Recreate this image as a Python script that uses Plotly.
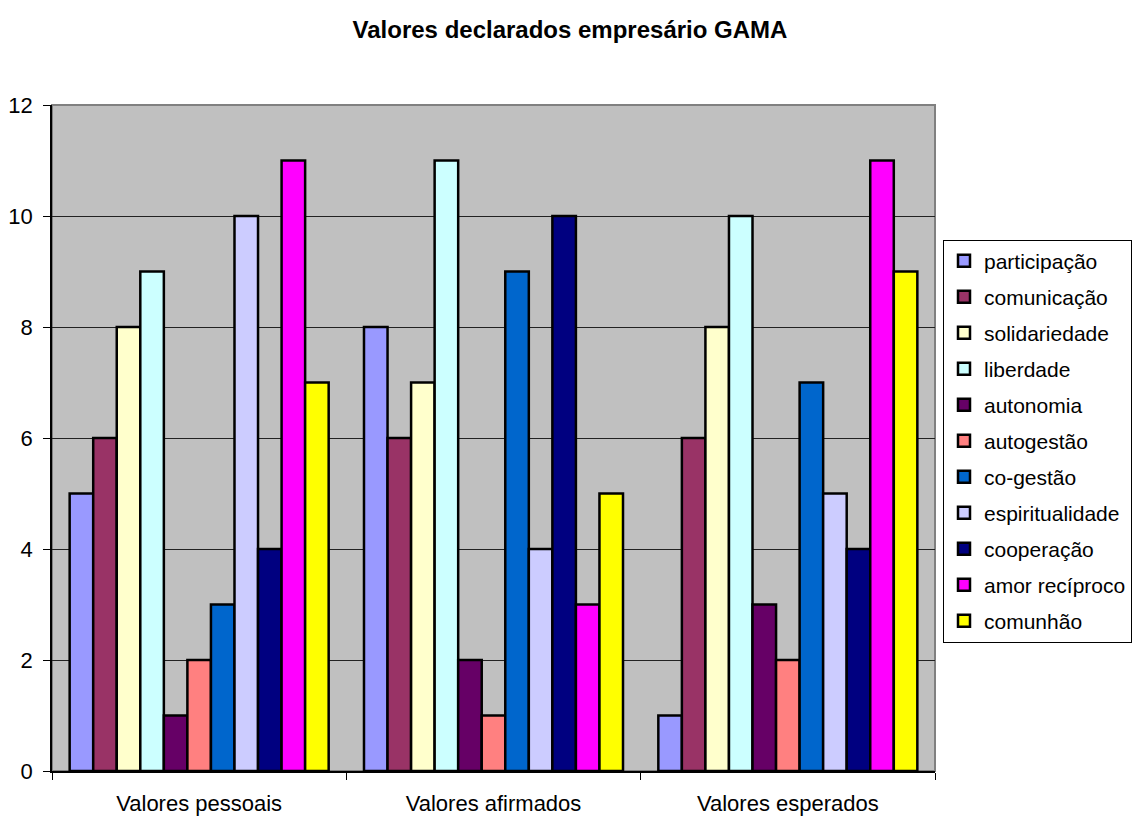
import plotly.graph_objects as go

categories = ["Valores pessoais", "Valores afirmados", "Valores esperados"]
series_names = ["participação", "comunicação", "solidariedade", "liberdade", "autonomia",
                "autogestão", "co-gestão", "espiritualidade", "cooperação", "amor recíproco", "comunhão"]
participacao = [5, 8, 1]
comunicacao = [6, 6, 6]
solidariedade = [8, 7, 8]
liberdade = [9, 11, 10]
autonomia = [1, 2, 3]
autogestao = [2, 1, 2]
cogestao = [3, 9, 7]
espiritualidade = [10, 4, 5]
cooperacao = [4, 10, 4]
amor_reciproco = [11, 3, 11]
comunhao = [7, 5, 9]
series_values = [participacao, comunicacao, solidariedade, liberdade, autonomia, autogestao,
                 cogestao, espiritualidade, cooperacao, amor_reciproco, comunhao]
colors = ["#9999FF", "#993366", "#FFFFCC", "#CCFFFF", "#660066", "#FF8080",
          "#0066CC", "#CCCCFF", "#000080", "#FF00FF", "#FFFF00"]

FONT = "Liberation Sans, Arial, sans-serif"

fig = go.Figure()
for name, vals, c in zip(series_names, series_values, colors):
    fig.add_trace(go.Bar(
        x=categories, y=vals, name=name, legendgroup=name,
        marker=dict(color=c, line=dict(color="black", width=2.5)),
    ))

fig.update_layout(
    width=1140, height=817,
    margin=dict(l=52, r=205, t=105, b=46, autoexpand=False),
    paper_bgcolor="white",
    plot_bgcolor="#C0C0C0",
    barmode="group",
    bargap=0.12,
    bargroupgap=0,
    font=dict(family=FONT, size=22, color="black"),
    title=dict(text="<b>Valores declarados empresário GAMA</b>", x=0.5, xref="container",
               xanchor="center", y=1 - 30 / 817, yanchor="middle", font=dict(family=FONT, size=24)),
    legend=dict(
        x=(943 - 52) / 883, y=0.798, xanchor="left", yanchor="top",
        bordercolor="black", borderwidth=1, bgcolor="white",
        font=dict(family=FONT, size=21),
        tracegroupgap=5.7, itemwidth=30,
    ),
    showlegend=True,
)
fig.update_yaxes(
    range=[0, 12], dtick=2, showgrid=True, gridcolor="#222222", gridwidth=1,
    showline=True, linecolor="black", linewidth=1.5, ticks="outside", ticklen=7,
    tickcolor="black", zeroline=False, tickfont=dict(size=22), ticklabelstandoff=6,
    automargin=False,
)
fig.update_xaxes(
    showline=True, linecolor="black", linewidth=1.5, ticks="outside", ticklen=7,
    tickcolor="black", tickson="boundaries", showgrid=False, tickfont=dict(size=22),
    ticklabelstandoff=12, automargin=False,
)
fig.add_shape(type="rect", xref="paper", yref="paper", x0=0, y0=0, x1=1, y1=1,
              line=dict(color="#808080", width=2), layer="below")

fig.write_html("out.html")
